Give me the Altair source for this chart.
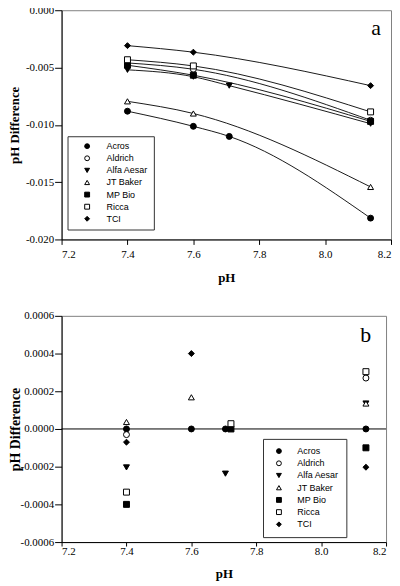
import altair as alt
import pandas as pd

brands = ["Acros", "Aldrich", "Alfa Aesar", "JT Baker", "MP Bio", "Ricca", "TCI"]
shapes = ["circle", "circle", "triangle-down", "triangle-up", "square", "square", "diamond"]
fills = ["black", "white", "black", "white", "black", "white", "black"]
strokes = ["black"] * 7

# ---- panel a: pH difference vs pH (with fitted curves) ----
a_acros_ph = [7.40, 7.60, 7.709, 8.138]
a_acros_d = [-0.00881, -0.01013, -0.01101, -0.01814]
a_aldrich_ph = [7.40, 7.60, 8.138]
a_aldrich_d = [-0.00460, -0.00515, -0.00960]
a_alfa_ph = [7.40, 7.60, 7.709, 8.138]
a_alfa_d = [-0.00520, -0.00580, -0.00658, -0.00990]
a_jtb_ph = [7.40, 7.60, 8.138]
a_jtb_d = [-0.00795, -0.00901, -0.01542]
a_mpbio_ph = [7.40, 7.60, 8.138]
a_mpbio_d = [-0.00480, -0.00567, -0.00970]
a_ricca_ph = [7.40, 7.60, 8.138]
a_ricca_d = [-0.00432, -0.00486, -0.00887]
a_tci_ph = [7.40, 7.60, 8.138]
a_tci_d = [-0.00309, -0.00366, -0.00658]

# ---- panel b: residual pH difference ----
b_acros_ph = [7.40, 7.60, 7.705, 8.138]
b_acros_d = [0.0, 0.0, 0.0, 0.0]
b_aldrich_ph = [7.40, 8.138]
b_aldrich_d = [-0.000030, 0.000270]
b_alfa_ph = [7.40, 7.705, 8.138]
b_alfa_d = [-0.000204, -0.000237, 0.000135]
b_jtb_ph = [7.40, 7.60, 8.138]
b_jtb_d = [0.000037, 0.000168, 0.000135]
b_mpbio_ph = [7.40, 7.722, 8.138]
b_mpbio_d = [-0.000400, 0.0, -0.000100]
b_ricca_ph = [7.40, 7.722, 8.138]
b_ricca_d = [-0.000335, 0.000028, 0.000304]
b_tci_ph = [7.40, 7.60, 8.138]
b_tci_d = [-0.000070, 0.000400, -0.000203]

x_ticks = [7.2, 7.4, 7.6, 7.8, 8.0, 8.2]
a_y_ticks = [-0.020, -0.015, -0.010, -0.005, 0.000]
b_y_ticks = [-0.0006, -0.0004, -0.0002, 0.0, 0.0002, 0.0004, 0.0006]


def frame(series):
    rows = []
    for b, (xs, ys) in zip(brands, series):
        for x, y in zip(xs, ys):
            rows.append({"brand": b, "pH": x, "diff": y})
    return pd.DataFrame(rows)


df_a = frame([(a_acros_ph, a_acros_d), (a_aldrich_ph, a_aldrich_d), (a_alfa_ph, a_alfa_d),
              (a_jtb_ph, a_jtb_d), (a_mpbio_ph, a_mpbio_d), (a_ricca_ph, a_ricca_d),
              (a_tci_ph, a_tci_d)])
df_b = frame([(b_acros_ph, b_acros_d), (b_aldrich_ph, b_aldrich_d), (b_alfa_ph, b_alfa_d),
              (b_jtb_ph, b_jtb_d), (b_mpbio_ph, b_mpbio_d), (b_ricca_ph, b_ricca_d),
              (b_tci_ph, b_tci_d)])

SERIF = "Liberation Serif"
SANS = "Liberation Sans"


def legend(x, y, pad, soff, loff, rowpad):
    return alt.Legend(title=None, orient="none", legendX=x, legendY=y, direction="vertical",
                      strokeColor="#333333", fillColor="white", padding=pad,
                      symbolOffset=soff, labelOffset=loff, rowPadding=rowpad,
                      labelFont=SANS, labelFontSize=9, labelColor="black",
                      symbolSize=24, symbolStrokeWidth=1, symbolStrokeColor="black")


def x_axis(tick, lpad, tpad):
    return alt.Axis(values=x_ticks, format=".1f", tickSize=tick, labelPadding=lpad,
                    titlePadding=tpad, grid=False, labelFont=SERIF, labelFontSize=11,
                    labelOverlap=False,
                    titleFont=SERIF, titleFontSize=13, titleFontWeight="bold",
                    domainColor="black", tickColor="black", labelColor="black",
                    titleColor="black")


def y_axis(vals, fmt, tsize, tpad):
    return alt.Axis(values=vals, labelExpr=f"replace(format(datum.value, '{fmt}'), '\u2212', '-')",
                    tickSize=7, labelPadding=1, titlePadding=tpad, minExtent=37, maxExtent=37,
                    labelOverlap=False, labelBound=False,
                    grid=False, labelFont=SERIF, labelFontSize=11, titleFont=SERIF,
                    titleFontSize=tsize, titleFontWeight="bold", domainColor="black",
                    tickColor="black", labelColor="black", titleColor="black")


def panel(df, ydom, yvals, yfmt, xaxis, yaxis_tsize, ytpad, leg, with_lines, label, label_xy,
          w, h):
    xs = alt.X("pH:Q", title="pH", scale=alt.Scale(domain=[7.2, 8.2], nice=False, zero=False),
               axis=xaxis)
    ys = alt.Y("diff:Q", title="pH Difference",
               scale=alt.Scale(domain=ydom, nice=False, zero=False),
               axis=y_axis(yvals, yfmt, yaxis_tsize, ytpad))
    layers = []
    if with_lines:
        layers.append(alt.Chart(df).mark_line(color="black", strokeWidth=0.9,
                                              interpolate="monotone")
                      .encode(x=xs, y=ys, detail="brand:N", order="pH:Q"))
    else:
        layers.append(alt.Chart(pd.DataFrame({"diff": [0.0]})).mark_rule(color="black", strokeWidth=1)
                      .encode(y=ys))
    layers.append(alt.Chart(df).mark_point(strokeWidth=1, opacity=1, fillOpacity=1,
                                           strokeOpacity=1, size=36)
                  .encode(x=xs, y=ys,
                          shape=alt.Shape("brand:N", scale=alt.Scale(domain=brands, range=shapes),
                                          legend=leg),
                          fill=alt.Fill("brand:N", scale=alt.Scale(domain=brands, range=fills),
                                        legend=leg),
                          stroke=alt.Stroke("brand:N", scale=alt.Scale(domain=brands, range=strokes),
                                            legend=leg)))
    lab = pd.DataFrame({"pH": [label_xy[0]], "diff": [label_xy[1]], "t": [label]})
    layers.append(alt.Chart(lab).mark_text(font=SERIF, fontSize=22, color="black",
                                           baseline="middle")
                  .encode(x=xs, y=ys, text="t:N"))
    return alt.layer(*layers).properties(width=w, height=h)


top = panel(df_a, [-0.020, 0.0], a_y_ticks, ".3f", x_axis(5, 4, 12), 13, 3,
            legend(6, 127, 5.5, 9.75, 15, 2.2), True, "a", (8.155, -0.00155), 332, 231)
bottom = panel(df_b, [-0.0006, 0.0006], b_y_ticks, ".4f", x_axis(4, 0, 11), 14, 2,
               legend(203, 124, 7.8, 3.75, 14, 2.3), False, "b", (8.137, 0.000498), 327, 228)

chart = alt.vconcat(top, bottom, spacing=24).resolve_scale(
    shape="independent", fill="independent", stroke="independent"
).resolve_legend(
    shape="independent", fill="independent", stroke="independent"
).properties(
    padding={"left": 0, "top": -7, "right": 0, "bottom": 0}
).configure_view(stroke="#808080", strokeWidth=1).configure_axis(
    labelFont=SERIF, titleFont=SERIF, labelOverlap=False)

chart.save("out.html", embed_options={"renderer": "svg", "actions": False})
